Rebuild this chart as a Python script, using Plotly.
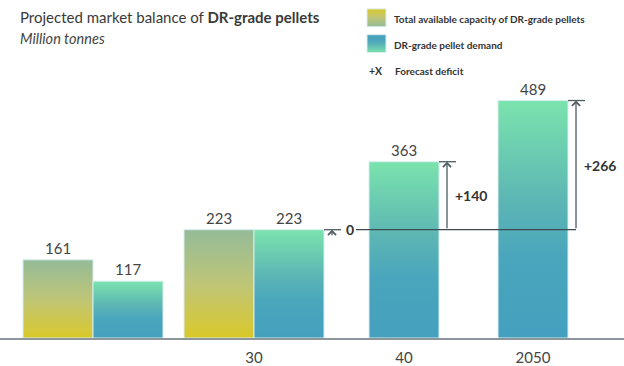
import plotly.graph_objects as go

# ---------------- data ----------------
periods = ["", "30", "40", "2050"]
capacity = [161, 223, None, None]      # total available capacity of DR-grade pellets
demand = [117, 223, 363, 489]          # DR-grade pellet demand
deficit = [None, 0, 140, 266]          # forecast deficit vs. available capacity

title_plain = "Projected market balance of "
title_bold = "DR-grade pellets"
subtitle = "Million tonnes"
legend_labels = ["Total available capacity of DR-grade pellets",
                 "DR-grade pellet demand",
                 "Forecast deficit"]
legend_symbol = "+X"

# ---------------- layout / style ----------------
W, H = 624, 366
PLOT_BOTTOM = 341
GROUP_X = [93, 254, 404, 533]
BAR_W = 70
Y_MAX = 696
FONT = "Lato"

CAP_SCALE = [[0, "#d8c826"], [0.12, "#d4c83e"], [0.5, "#bec577"], [1, "#94bb98"]]
DEM_SCALE = [[0, "#44a0be"], [0.35, "#4aa6bc"], [0.56, "#5bb4b4"], [1, "#7be3ad"]]
EDGE = "#d6eef0"
INK = "#4d5b61"
TEXT = "#444444"
DARK = "#333333"


def flip(scale):
    return [[1 - s, c] for s, c in reversed(scale)]


def rect_trace(x0, x1, y0, y1, scale, yaxis="y"):
    return go.Scatter(
        x=[x0, x0, x1, x1, x0], y=[y0, y1, y1, y0, y0],
        mode="lines", fill="toself",
        line=dict(color=EDGE, width=1),
        fillgradient=dict(type="vertical", colorscale=scale),
        hoverinfo="skip", showlegend=False, yaxis=yaxis,
    )


fig = go.Figure()
annotations = []
shapes = []

arrow_xs = []
for i, gx in enumerate(GROUP_X):
    if capacity[i] is not None:
        cap_c = gx - BAR_W / 2
        dem_c = gx + BAR_W / 2
        fig.add_trace(rect_trace(cap_c - BAR_W / 2, cap_c + BAR_W / 2, 0, capacity[i], CAP_SCALE))
        annotations.append(dict(x=cap_c, y=capacity[i], xref="x", yref="y", text=str(capacity[i]),
                                showarrow=False, yanchor="bottom", yshift=1,
                                font=dict(size=15, color=TEXT, family=FONT)))
    else:
        dem_c = gx
    fig.add_trace(rect_trace(dem_c - BAR_W / 2, dem_c + BAR_W / 2, 0, demand[i], DEM_SCALE))
    annotations.append(dict(x=dem_c, y=demand[i], xref="x", yref="y", text=str(demand[i]),
                            showarrow=False, yanchor="bottom", yshift=1,
                            font=dict(size=15, color=TEXT, family=FONT)))

    if deficit[i] is not None:
        right = dem_c + BAR_W / 2
        ax_x = right + 8
        arrow_xs.append(ax_x)
        base = demand[i] - deficit[i]
        top = demand[i]
        # cap line
        shapes.append(dict(type="line", xref="x", yref="y", x0=right, x1=right + 17, y0=top, y1=top,
                           line=dict(color=INK, width=1.3)))
        if deficit[i] > 0:
            annotations.append(dict(x=ax_x, y=top, ax=ax_x, ay=base, xref="x", yref="y",
                                    axref="x", ayref="y", text="", showarrow=True,
                                    arrowhead=4, arrowsize=1.2, arrowwidth=1.3, arrowcolor=INK,
                                    standoff=0, startstandoff=0))
            annotations.append(dict(x=ax_x + 6, y=(base + top) / 2, xref="x", yref="y",
                                    text=f"<b>+{deficit[i]}</b>", showarrow=False,
                                    xanchor="left", yanchor="middle",
                                    font=dict(size=14, color=DARK, family=FONT)))
        else:
            annotations.append(dict(x=ax_x, y=top, ax=0, ay=7, xref="x", yref="y",
                                    text="", showarrow=True,
                                    arrowhead=4, arrowsize=1.2, arrowwidth=1.3, arrowcolor=INK,
                                    standoff=0, startstandoff=0))
            annotations.append(dict(x=ax_x + 12, y=top, xref="x", yref="y",
                                    text="<b>0</b>", showarrow=False,
                                    xanchor="left", yanchor="middle",
                                    font=dict(size=14, color=DARK, family=FONT)))

# deficit reference line (available capacity level)
ref_level = demand[1] - deficit[1]
shapes.append(dict(type="line", xref="x", yref="y", x0=arrow_xs[0] + 24, x1=arrow_xs[-1],
                   y0=ref_level, y1=ref_level, line=dict(color="#3d4b50", width=1.3)))

# ---------------- title & legend (pixel overlay axis y2) ----------------
annotations.append(dict(x=18, y=17, xref="x", yref="y2", xanchor="left", yanchor="middle",
                        text=f"{title_plain}<b>{title_bold}</b>", showarrow=False,
                        font=dict(size=15, color="#3a3a3a", family=FONT)))
annotations.append(dict(x=18, y=39, xref="x", yref="y2", xanchor="left", yanchor="middle",
                        text=f"<i>{subtitle}</i>", showarrow=False,
                        font=dict(size=14.5, color=TEXT, family=FONT)))

fig.add_trace(rect_trace(367, 386, 9, 27, flip(CAP_SCALE), yaxis="y2"))
fig.add_trace(rect_trace(367, 386, 35, 53, flip(DEM_SCALE), yaxis="y2"))
for txt, yy in zip(legend_labels[:2], [19, 45]):
    annotations.append(dict(x=392, y=yy, xref="x", yref="y2", xanchor="left", yanchor="middle",
                            text=f"<b>{txt}</b>", showarrow=False,
                            font=dict(size=10, color=DARK, family=FONT)))
annotations.append(dict(x=367, y=72, xref="x", yref="y2", xanchor="left", yanchor="middle",
                        text=f"<b>{legend_symbol}</b>", showarrow=False,
                        font=dict(size=10.5, color=DARK, family=FONT)))
annotations.append(dict(x=393, y=72, xref="x", yref="y2", xanchor="left", yanchor="middle",
                        text=f"<b>{legend_labels[2]}</b>", showarrow=False,
                        font=dict(size=10, color=DARK, family=FONT)))

fig.update_layout(
    width=W, height=H,
    margin=dict(l=0, r=0, t=0, b=H - PLOT_BOTTOM, pad=0),
    paper_bgcolor="white", plot_bgcolor="white",
    showlegend=False,
    font=dict(family=FONT, color=TEXT),
    xaxis=dict(range=[0, W], tickmode="array", tickvals=GROUP_X, ticktext=periods,
               showgrid=False, zeroline=False, showline=True, linecolor="#8d979b", linewidth=2,
               ticks="", ticklabelstandoff=5, tickfont=dict(size=15, color=TEXT, family=FONT),
               fixedrange=True),
    yaxis=dict(range=[0, Y_MAX], visible=False, fixedrange=True),
    yaxis2=dict(range=[PLOT_BOTTOM, 0], overlaying="y", visible=False, fixedrange=True),
    annotations=annotations,
    shapes=shapes,
)

fig.write_html(
    "out.html",
    config={"displayModeBar": False},
    post_script="document.body.style.margin='0';document.body.style.overflow='hidden';",
)
